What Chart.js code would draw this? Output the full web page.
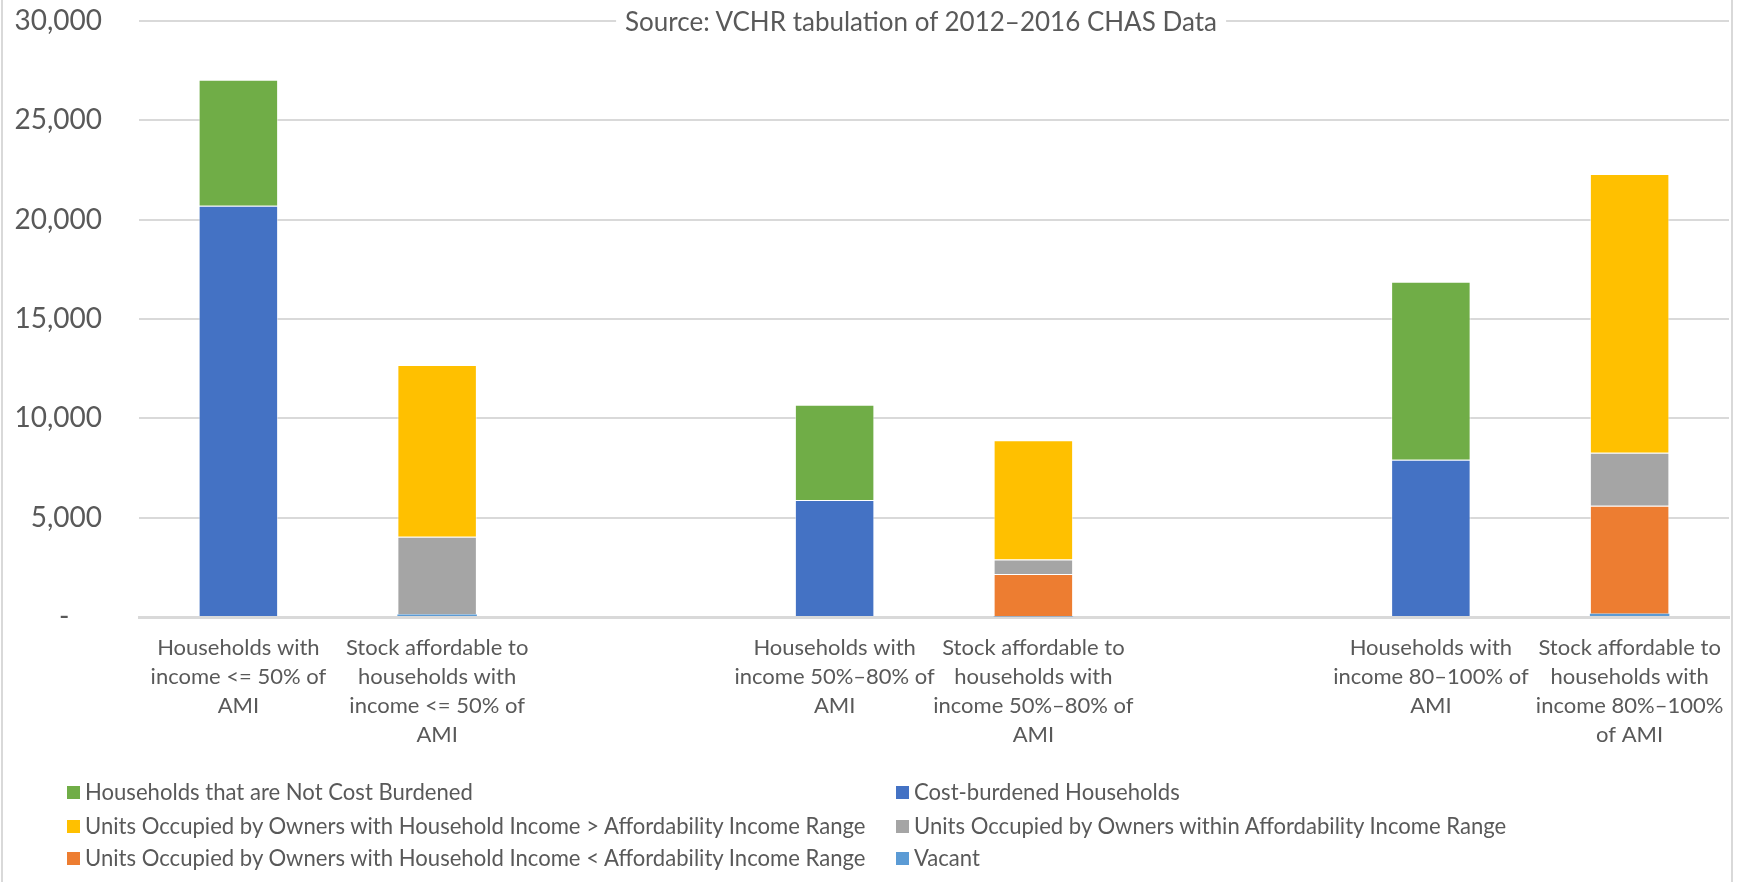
<!DOCTYPE html>
<html>
<head>
<meta charset="utf-8">
<script src="https://cdn.jsdelivr.net/npm/chart.js@4.4.0/dist/chart.umd.min.js"></script>
<style>
  html, body { margin: 0; padding: 0; background: #fff; }
  #wrap { position: relative; width: 1738px; height: 882px; overflow: hidden; font-family: Lato, "Open Sans", sans-serif; color: #595959; }
  #frame { position: absolute; left: 1px; top: -4px; width: 1732px; height: 890px; border: 2px solid #d9d9d9; box-sizing: border-box; pointer-events: none; }
  #chart { position: absolute; left: 0; top: 0; }
  #subtitle { position: absolute; left: 921px; top: 6px; transform: translateX(-50%); background: #fff; padding: 0 9px; font-size: 26px; line-height: 30px; white-space: nowrap; }
  .leg { position: absolute; height: 26px; line-height: 26px; font-size: 22.1px; white-space: nowrap; display: flex; align-items: center; }
  .leg i { display: inline-block; width: 13px; height: 13px; margin-right: 5px; }
</style>
</head>
<body>
<div id="wrap">
  <canvas id="chart" width="1738" height="882"></canvas>
  <div id="subtitle">Source: VCHR tabulation of 2012–2016 CHAS Data</div>
  <div id="legend"></div>
  <div id="frame"></div>
</div>
<script>
// Income bands: households in each band next to the housing stock affordable to it
const categories = [
  ["Households with", "income <= 50% of", "AMI"],
  ["Stock affordable to", "households with", "income <= 50% of", "AMI"],
  "",
  ["Households with", "income 50%–80% of", "AMI"],
  ["Stock affordable to", "households with", "income 50%–80% of", "AMI"],
  "",
  ["Households with", "income 80–100% of", "AMI"],
  ["Stock affordable to", "households with", "income 80%–100%", "of AMI"]
];

// Household counts
const costBurdened     = [20700, null, null, 5890, null, null, 7920, null];
const notCostBurdened  = [6340,  null, null, 4790, null, null, 8960, null];

// Housing stock counts
const vacant           = [null, 120,  null, null, 30,   null, null, 160];
const ownersBelow      = [null, null, null, null, 2135, null, null, 5440];
const ownersWithin     = [null, 3925, null, null, 735,  null, null, 2670];
const ownersAbove      = [null, 8640, null, null, 6000, null, null, 14030];

const yTicks = { min: 0, max: 30000, step: 5000 };

const series = {
  notCost:  { label: "Households that are Not Cost Burdened", data: notCostBurdened, color: "#70AD47" },
  burdened: { label: "Cost-burdened Households", data: costBurdened, color: "#4472C4" },
  above:    { label: "Units Occupied by Owners with Household Income > Affordability Income Range", data: ownersAbove, color: "#FFC000" },
  within:   { label: "Units Occupied by Owners within Affordability Income Range", data: ownersWithin, color: "#A5A5A5" },
  below:    { label: "Units Occupied by Owners with Household Income < Affordability Income Range", data: ownersBelow, color: "#ED7D31" },
  vacant:   { label: "Vacant", data: vacant, color: "#5B9BD5" }
};

// bottom-to-top stacking order
const stackOrder = ["burdened", "notCost", "vacant", "below", "within", "above"];
// legend reading order (two columns)
const legendOrder = ["notCost", "burdened", "above", "within", "below", "vacant"];

const datasets = stackOrder.map(k => ({
  label: series[k].label,
  data: series[k].data,
  backgroundColor: series[k].color,
  borderColor: "rgba(255,255,255,0.55)",
  borderWidth: k === "vacant" ? 0 : 1,
  barPercentage: 0.4,
  categoryPercentage: 1.0
}));

new Chart(document.getElementById("chart"), {
  type: "bar",
  data: { labels: categories, datasets },
  options: {
    responsive: false,
    animation: false,
    layout: { padding: { top: 21, right: 9, left: 0, bottom: 0 } },
    plugins: { legend: { display: false }, title: { display: false }, tooltip: { enabled: false } },
    scales: {
      x: {
        stacked: true,
        grid: { display: false },
        border: { display: true, color: "#d9d9d9", width: 3 },
        ticks: { color: "#595959", font: { family: "Lato", size: 22, lineHeight: 1.32 }, maxRotation: 0, autoSkip: false, padding: 8 },
        afterFit: s => { s.height = 265; s.paddingLeft = 0; s.paddingRight = 0; }
      },
      y: {
        stacked: true,
        min: yTicks.min,
        max: yTicks.max,
        grid: { color: "#d9d9d9", lineWidth: 2, drawTicks: false },
        border: { display: false },
        ticks: {
          stepSize: yTicks.step,
          color: "#595959",
          font: { family: "Lato", size: 28 },
          padding: 37,
          callback: v => v === 0 ? "-\u2007\u2007" : Number(v).toLocaleString("en-US")
        },
        afterFit: s => { s.width = 139; s.paddingTop = 0; s.paddingBottom = 0; }
      }
    }
  }
});

// two-column legend below the plot
const legendBox = document.getElementById("legend");
const colX = [67, 896];
const rowY = [792, 826, 858];
legendOrder.forEach((k, i) => {
  const el = document.createElement("div");
  el.className = "leg";
  el.style.left = colX[i % 2] + "px";
  el.style.top = (rowY[Math.floor(i / 2)] - 13) + "px";
  const sw = document.createElement("i");
  sw.style.background = series[k].color;
  el.appendChild(sw);
  el.appendChild(document.createTextNode(series[k].label));
  legendBox.appendChild(el);
});
</script>
</body>
</html>
